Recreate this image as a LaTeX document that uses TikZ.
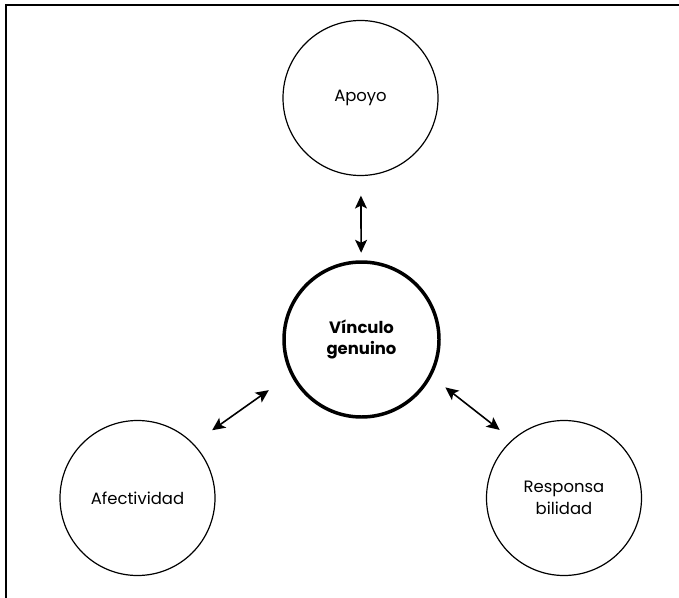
\documentclass[tikz,border=0pt]{standalone}
\usepackage{fontspec}
\setmainfont{Poppins}
\usetikzlibrary{calc,arrows.meta}
\tikzset{
  frame/.style={draw=black, line width=2pt},
  topic/.style={draw=black, circle, line width=1.2pt, minimum size=155bp, inner sep=0pt, align=center, font=\fontsize{16.5}{21.5}\selectfont},
  core/.style={topic, line width=3.5pt, font=\fontsize{16.5}{21.5}\selectfont\bfseries},
  link/.style={{Stealth[length=13pt,width=12pt,inset=3pt]}-{Stealth[length=13pt,width=12pt,inset=3pt]}, draw=black, line width=1.6pt}
}
\begin{document}
\begin{tikzpicture}[x=1bp,y=-1bp]
  \useasboundingbox (0,0) rectangle (679,598);
  \draw[frame] (6,598) -- (6,5) -- (679,5);
  % circles
  \node[topic] (apoyo) at (360.5,98) {Apoyo};
  \node[core] (vinculo) at (361.5,339.5) {Vínculo\\genuino};
  \node[topic] (afect) at (137.5,498) {Afectividad};
  \node[topic] (resp) at (564,498) {Responsa\\bilidad};
  % links
  \draw[link, shorten <=19.5bp, shorten >=7.5bp] (apoyo) -- (vinculo);
  \draw[link, shorten <=100bp, shorten >=105bp] ([shift={(-7,-10)}]afect.center) -- ([shift={(-7,-10)}]vinculo.center);
  \draw[link, shorten <=95.6bp, shorten >=92.6bp] ([shift={(8.6,-11)}]vinculo.center) -- ([shift={(8.6,-11)}]resp.center);
\end{tikzpicture}
\end{document}
